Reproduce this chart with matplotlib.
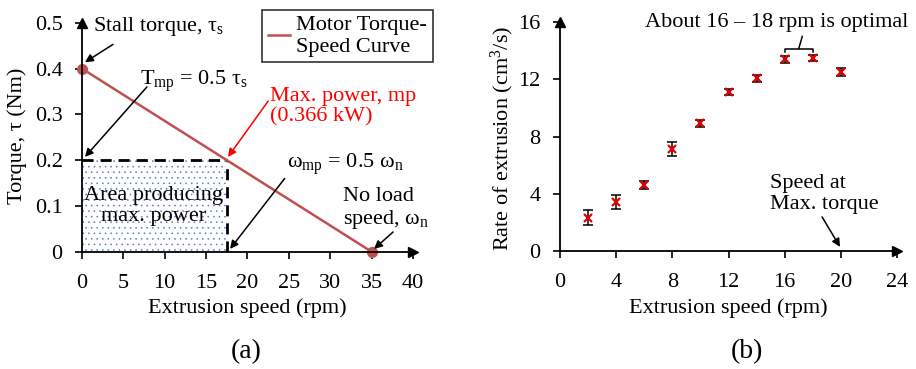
import numpy as np
import matplotlib
matplotlib.use("Agg")
import matplotlib.pyplot as plt

plt.rcParams['font.family'] = ['Liberation Serif', 'DejaVu Serif']
plt.rcParams['mathtext.fontset'] = 'custom'
plt.rcParams['mathtext.rm'] = 'Liberation Serif'
plt.rcParams['mathtext.it'] = 'Liberation Serif:italic'
plt.rcParams['font.size'] = 16
plt.rcParams['hatch.linewidth'] = 0.4

# panel (a): motor torque-speed curve
speed_a = [0, 35]
torque_a = [0.4, 0.0]
mp_speed = 17.5
mp_torque = 0.2

# panel (b): measured extrusion rate
speed_b = [2, 4, 6, 8, 10, 12, 14, 16, 18, 20]
rate_b = [2.33, 3.4, 4.61, 7.13, 8.92, 11.1, 12.07, 13.39, 13.48, 12.5]
err_b = [0.55, 0.5, 0.25, 0.47, 0.25, 0.22, 0.25, 0.25, 0.2, 0.3]

red_line = '#C0504D'

fig = plt.figure(figsize=(9.16, 3.69), dpi=100)
ax1 = fig.add_axes([0.0895, 0.318, 0.3613, 0.620])
ax2 = fig.add_axes([0.6114, 0.320, 0.3679, 0.620])


def arrow_axes(ax):
    for s in ['top', 'right']:
        ax.spines[s].set_visible(False)
    for s in ['left', 'bottom']:
        ax.spines[s].set_linewidth(1.3)
    ax.plot(1, 0, '>k', ms=7, transform=ax.transAxes, clip_on=False)
    ax.plot(0, 1, '^k', ms=7, transform=ax.transAxes, clip_on=False)
    ax.tick_params(width=1.2, length=5, labelsize=16)
    ax.tick_params(axis='x', pad=11)
    ax.tick_params(axis='y', pad=9)


# ---- (a)
ax1.fill_between([0, mp_speed], 0, mp_torque, facecolor='white',
                 edgecolor='#4F7FD0', hatch='...', linewidth=0)
ax1.plot([0, mp_speed], [mp_torque, mp_torque], 'k--', lw=2, dashes=(4, 2.5))
ax1.plot([mp_speed, mp_speed], [0, mp_torque], 'k--', lw=2, dashes=(4, 2.5))
ax1.plot(speed_a, torque_a, color=red_line, lw=1.8,
         label='Motor Torque-\nSpeed Curve')
ax1.plot(speed_a, torque_a, 'o', color=red_line, ms=7, clip_on=False)
ax1.set_xlim(0, 40)
ax1.set_ylim(0, 0.5)
ax1.set_xticks(range(0, 41, 5))
ax1.set_yticks([0, 0.1, 0.2, 0.3, 0.4, 0.5])
ax1.set_yticklabels(['0', '0.1', '0.2', '0.3', '0.4', '0.5'])
arrow_axes(ax1)
ax1.set_xlabel('Extrusion speed (rpm)', fontsize=16)
ax1.xaxis.set_label_coords(0.5, -0.205)
ax1.set_ylabel('Torque, τ (Nm)', fontsize=16)
ax1.yaxis.set_label_coords(-0.167, 0.505)
leg = ax1.legend(loc='upper right', bbox_to_anchor=(1.06, 1.055), fancybox=False,
                 edgecolor='black', fontsize=16, handlelength=1.0,
                 borderpad=0.25, borderaxespad=0, labelspacing=0.2,
                 handletextpad=0.3)
leg.get_frame().set_linewidth(1.2)

ap = dict(arrowstyle='-|>', color='k', lw=1.1, mutation_scale=12,
          shrinkA=0, shrinkB=0)
ax1.text(1.3, 0.493, 'Stall torque, τ$_\\mathrm{s}$', va='center', fontsize=16)
ax1.annotate('', xy=(0.36, 0.414), xytext=(3.75, 0.453), arrowprops=ap)
ax1.text(7.0, 0.372, 'T$_\\mathrm{mp}$ = 0.5 τ$_\\mathrm{s}$', va='center', fontsize=16)
ax1.annotate('', xy=(0.36, 0.207), xytext=(7.85, 0.36), arrowprops=ap)
ax1.text(22.7, 0.316, 'Max. power, mp\n(0.366 kW)', va='center', color='red',
         fontsize=16, linespacing=1.1)
ax1.annotate('', xy=(17.65, 0.207), xytext=(22.5, 0.329),
             arrowprops=dict(ap, color='red'))
ax1.text(24.8, 0.191, 'ω$_\\mathrm{mp}$ = 0.5 ω$_\\mathrm{n}$', va='center', fontsize=16)
ax1.annotate('', xy=(17.9, 0.006), xytext=(24.5, 0.16), arrowprops=ap)
ax1.text(31.5, 0.093, 'No load\nspeed, ω$_\\mathrm{n}$', va='center', fontsize=16,
         linespacing=1.1)
ax1.annotate('', xy=(35.3, 0.006), xytext=(37.6, 0.043), arrowprops=ap)
ax1.text(8.6, 0.1, 'Area producing\nmax. power', ha='center', va='center',
         fontsize=16, linespacing=1.1)

# ---- (b)
ax2.errorbar(speed_b, rate_b, yerr=err_b, fmt='none', ecolor='black',
             elinewidth=1.1, capsize=3.5, capthick=1.1)
ax2.plot(speed_b, rate_b, 'x', color='#E00000', ms=6, mew=1.6)
ax2.set_xlim(0, 24)
ax2.set_ylim(0, 16)
ax2.set_xticks(range(0, 25, 4))
ax2.set_yticks(range(0, 17, 4))
arrow_axes(ax2)
ax2.set_xlabel('Extrusion speed (rpm)', fontsize=16)
ax2.xaxis.set_label_coords(0.5, -0.205)
ax2.set_ylabel('Rate of extrusion (cm$^3$/s)', fontsize=16)
ax2.yaxis.set_label_coords(-0.13, 0.49)

ax2.text(6.05, 16.0, 'About 16 – 18 rpm is optimal', va='center', fontsize=16,
         clip_on=False)
ax2.plot([16, 16, 18, 18], [13.9, 14.15, 14.15, 13.9], 'k-', lw=1.1)
ax2.plot([17, 17.25], [14.15, 15.0], 'k-', lw=1.1)
ax2.text(14.96, 4.0, 'Speed at\nMax. torque', va='center', fontsize=16,
         linespacing=1.15)
ax2.annotate('', xy=(19.94, 0.28), xytext=(18.66, 2.38), arrowprops=ap)

fig.text(0.2686, 0.046, '(a)', ha='center', va='center', fontsize=20)
fig.text(0.8155, 0.046, '(b)', ha='center', va='center', fontsize=20)

fig.savefig('out.png', dpi=100)
